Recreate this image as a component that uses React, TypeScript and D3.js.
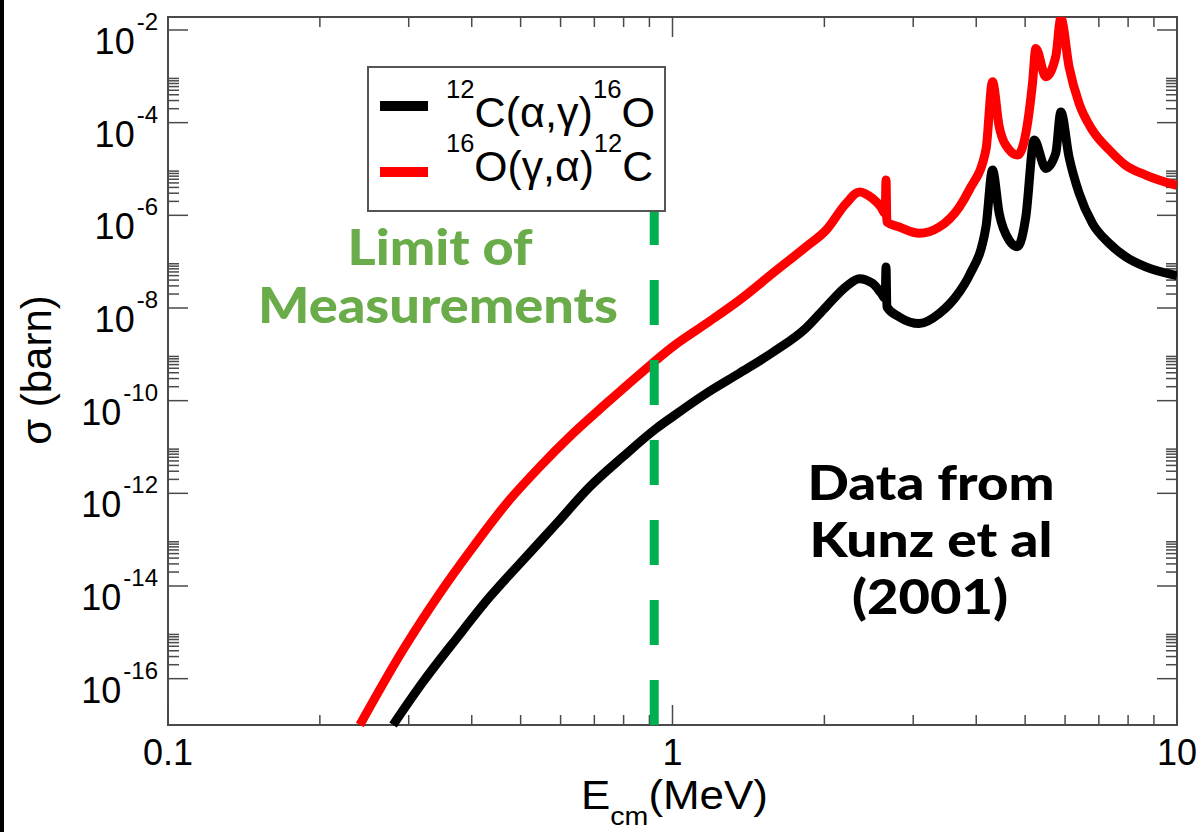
import * as d3 from 'd3';
import React from 'react';

// 12C(a,g)16O  (black)
const captureE = [0.2793, 0.3202, 0.3729, 0.4342, 0.5053, 0.5884, 0.6848, 0.797, 0.9284, 1.0, 1.166, 1.357, 1.58, 1.84, 2.016, 2.208, 2.346, 2.493, 2.59, 2.64, 2.65, 2.66, 2.815, 3.084, 3.379, 3.701, 3.873, 4.181, 4.308, 4.442, 4.648, 4.83, 5.016, 5.211, 5.495, 5.75, 5.885, 6.11, 6.396, 6.797, 7.335, 7.913, 8.67, 10.0];
const captureSigma = [1e-17, 8.5e-17, 7.3e-16, 5.8e-15, 3.6e-14, 2.2e-13, 1.37e-12, 6.1e-12, 2.5e-11, 4.5e-11, 1.43e-10, 3.9e-10, 1.1e-9, 3.7e-9, 1.06e-8, 2.9e-8, 4.3e-8, 3.4e-8, 2.1e-8, 1.6e-8, 7.7e-8, 1.06e-8, 6.4e-9, 4.6e-9, 7.6e-9, 2.2e-8, 5.0e-8, 5.6e-7, 9.5e-6, 1.1e-6, 2.9e-7, 2.1e-7, 9.3e-7, 4.2e-5, 1.03e-5, 2.2e-5, 1.7e-4, 1.8e-5, 3.0e-6, 6.7e-7, 2.5e-7, 1.27e-7, 7.7e-8, 5.0e-8];

// 16O(g,a)12C  (red)
const photoE = [0.24, 0.292, 0.3456, 0.4023, 0.4686, 0.5452, 0.6348, 0.7391, 0.8603, 1.0, 1.166, 1.357, 1.58, 1.84, 2.016, 2.208, 2.346, 2.493, 2.59, 2.64, 2.65, 2.66, 2.815, 3.084, 3.379, 3.701, 3.873, 4.181, 4.308, 4.442, 4.648, 4.83, 5.016, 5.171, 5.251, 5.495, 5.75, 5.885, 6.11, 6.396, 6.797, 7.335, 7.913, 8.67, 10.0];
const photoSigma = [1e-17, 4.1e-16, 6.9e-15, 6.9e-14, 6.0e-13, 3.7e-12, 1.95e-11, 8.7e-11, 3.7e-10, 1.45e-9, 4.6e-9, 1.48e-8, 5.6e-8, 2.1e-7, 4.8e-7, 1.8e-6, 3.2e-6, 2.3e-6, 1.5e-6, 1.1e-6, 5.8e-6, 7.2e-7, 5.6e-7, 4.1e-7, 5.6e-7, 1.5e-6, 3.5e-6, 2.6e-5, 7.6e-4, 8.2e-5, 2.6e-5, 2.0e-5, 5.9e-5, 7.1e-4, 4.0e-3, 9.8e-4, 2.65e-3, 1.8e-2, 1.6e-3, 2.6e-4, 6.9e-5, 2.6e-5, 1.2e-5, 7.4e-6, 4.4e-6];

const xMajor = [0.1, 1, 10];
const xMajorLabels = ['0.1', '1', '10'];
const yExponents = [-16, -14, -12, -10, -8, -6, -4, -2];
const yMinorExponents = [-16, -14, -12, -10, -8, -6, -4];

const limitE = 0.92;
const limitTop = 1.5e-6;

function App(): any {
  const width = 1204;
  const height = 832;
  const plot = { left: 168, right: 1177, top: 17, bottom: 725 };

  const xScale = d3.scaleLog().domain([0.1, 10]).range([plot.left, plot.right]);
  const yScale = d3.scaleLog().domain([1e-17, Math.pow(10, -1.72)]).range([plot.bottom, plot.top]);

  const line = d3.line<number[]>()
    .x((d: any) => xScale(d[0]))
    .y((d: any) => yScale(d[1]))
    .curve(d3.curveMonotoneX);

  const capture = captureE.map((e, i) => [e, captureSigma[i]]);
  const photo = photoE.map((e, i) => [e, photoSigma[i]]);

  const xMinor: number[] = [];
  [0.1, 1].forEach((base) => {
    for (let k = 2; k <= 9; k++) xMinor.push(base * k);
  });
  const yMinor: number[] = [];
  yMinorExponents.forEach((e) => {
    for (let k = 2; k <= 9; k++) yMinor.push(k * Math.pow(10, e));
  });

  const axisColor = '#4a4a4a';
  const tickFont = '"Liberation Sans", Arial, Helvetica, sans-serif';
  const boldFont = 'Lato, "Open Sans", sans-serif';

  return (
    <svg
      width={width}
      height={height}
      style={{ position: 'fixed', left: 0, top: 0, background: '#fff' }}
    >
      <defs>
        <clipPath id="plot-clip">
          <rect x={plot.left} y={plot.top} width={plot.right - plot.left} height={plot.bottom - plot.top + 5} />
        </clipPath>
      </defs>
      <rect x={0} y={0} width={width} height={height} fill="#fff" />
      <rect x={0} y={0} width={4} height={height} fill="#000" />

      {/* frame */}
      <rect
        x={plot.left}
        y={plot.top}
        width={plot.right - plot.left}
        height={plot.bottom - plot.top}
        fill="none"
        stroke={axisColor}
        strokeWidth={2}
      />

      {/* x ticks, bottom and top */}
      {xMajor.map((v) => (
        <g key={'xM' + v}>
          <line x1={xScale(v)} x2={xScale(v)} y1={plot.bottom} y2={plot.bottom - 20} stroke={axisColor} strokeWidth={1.5} />
          <line x1={xScale(v)} x2={xScale(v)} y1={plot.top} y2={plot.top + 20} stroke={axisColor} strokeWidth={1.5} />
        </g>
      ))}
      {xMinor.map((v) => (
        <g key={'xm' + v}>
          <line x1={xScale(v)} x2={xScale(v)} y1={plot.bottom} y2={plot.bottom - 10} stroke={axisColor} strokeWidth={1.5} />
          <line x1={xScale(v)} x2={xScale(v)} y1={plot.top} y2={plot.top + 10} stroke={axisColor} strokeWidth={1.5} />
        </g>
      ))}

      {/* y ticks, left and right */}
      {yExponents.map((e) => {
        const y = yScale(Math.pow(10, e));
        return (
          <g key={'yM' + e}>
            <line x1={plot.left} x2={plot.left + 20} y1={y} y2={y} stroke={axisColor} strokeWidth={1.5} />
            <line x1={plot.right} x2={plot.right - 20} y1={y} y2={y} stroke={axisColor} strokeWidth={1.5} />
          </g>
        );
      })}
      {yMinor.map((v, i) => {
        const y = yScale(v);
        return (
          <g key={'ym' + i}>
            <line x1={plot.left} x2={plot.left + 11} y1={y} y2={y} stroke={axisColor} strokeWidth={1.5} />
            <line x1={plot.right} x2={plot.right - 11} y1={y} y2={y} stroke={axisColor} strokeWidth={1.5} />
          </g>
        );
      })}

      {/* tick labels */}
      {xMajor.map((v, i) => (
        <text key={'xl' + v} x={xScale(v)} y={765} textAnchor="middle" fontFamily={tickFont} fontSize={36} fill="#000">
          {xMajorLabels[i]}
        </text>
      ))}
      {yExponents.map((e) => {
        const y = yScale(Math.pow(10, e));
        return (
          <text key={'yl' + e} x={158} y={y + 24} textAnchor="end" fontFamily={tickFont} fontSize={36} fill="#000">
            10
            <tspan fontSize={24} dy={-24} dx={2}>{String(e)}</tspan>
          </text>
        );
      })}

      {/* axis titles */}
      <text x={581} y={809} fontFamily={tickFont} fontSize={40} fill="#000" textLength={187} lengthAdjust="spacingAndGlyphs">
        E
        <tspan fontSize={26} dy={16}>cm</tspan>
        <tspan fontSize={40} dy={-16}>(MeV)</tspan>
      </text>
      <text
        transform="translate(51,370) rotate(-90)"
        textAnchor="middle"
        fontFamily={tickFont}
        fontSize={42}
        fill="#000"
      >
        σ (barn)
      </text>

      {/* curves */}
      <g clipPath="url(#plot-clip)">
        <path d={line(photo as any) || ''} fill="none" stroke="#ff0000" strokeWidth={9} strokeLinejoin="round" />
        <path d={line(capture as any) || ''} fill="none" stroke="#000" strokeWidth={9} strokeLinejoin="round" />
      </g>

      {/* limit of measurements */}
      <line
        x1={xScale(limitE)}
        x2={xScale(limitE)}
        y1={yScale(1e-17)}
        y2={yScale(limitTop)}
        stroke="#00b050"
        strokeWidth={9}
        strokeDasharray="45 35"
      />

      {/* legend */}
      <rect x={368} y={67} width={297} height={144} fill="#fff" stroke="#555" strokeWidth={2} />
      <line x1={380} x2={428} y1={106} y2={106} stroke="#000" strokeWidth={10} />
      <line x1={380} x2={428} y1={172} y2={172} stroke="#ff0000" strokeWidth={10} />
      <text x={446} y={98} fontFamily={tickFont} fontSize={25} fill="#000" textLength={209} lengthAdjust="spacingAndGlyphs">
        12
        <tspan fontSize={42} dy={29}>C(α,γ)</tspan>
        <tspan fontSize={25} dy={-29}>16</tspan>
        <tspan fontSize={42} dy={29}>O</tspan>
      </text>
      <text x={446} y={152} fontFamily={tickFont} fontSize={25} fill="#000" textLength={207} lengthAdjust="spacingAndGlyphs">
        16
        <tspan fontSize={42} dy={29}>O(γ,α)</tspan>
        <tspan fontSize={25} dy={-29}>12</tspan>
        <tspan fontSize={42} dy={29}>C</tspan>
      </text>

      {/* annotations */}
      <g fontFamily={boldFont} fontWeight={900} fill="#6aac4a" textAnchor="middle" fontSize={50}>
        <text x={440} y={265} textLength={185} lengthAdjust="spacingAndGlyphs">Limit of</text>
        <text x={438} y={323} textLength={360} lengthAdjust="spacingAndGlyphs">Measurements</text>
      </g>
      <g fontFamily={boldFont} fontWeight={900} fill="#000" textAnchor="middle" fontSize={48}>
        <text x={931} y={500} textLength={247} lengthAdjust="spacingAndGlyphs">Data from</text>
        <text x={931} y={557} textLength={243} lengthAdjust="spacingAndGlyphs">Kunz et al</text>
        <text x={930} y={614} textLength={156} lengthAdjust="spacingAndGlyphs">(2001)</text>
      </g>
    </svg>
  );
}

export default App;
